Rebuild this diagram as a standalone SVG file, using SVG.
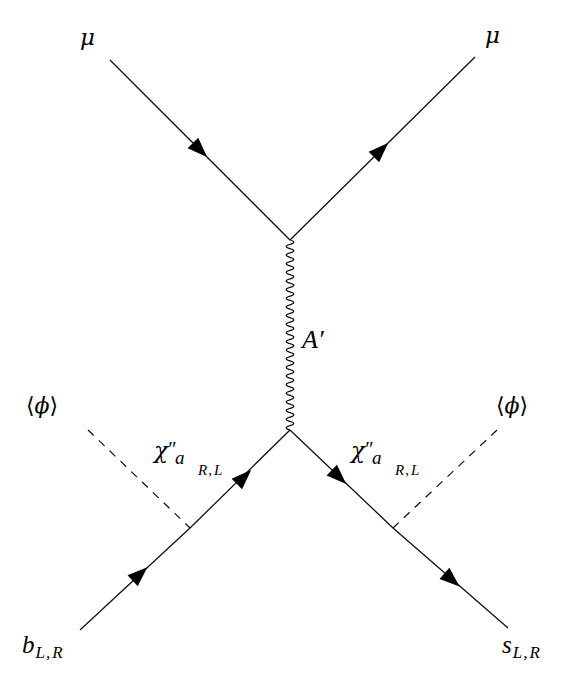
<svg xmlns="http://www.w3.org/2000/svg" width="572" height="680" viewBox="0 0 572 680">
<style>
.ln{fill:none;stroke:#111;stroke-width:1.3}
.ds{fill:none;stroke:#111;stroke-width:1.2;stroke-dasharray:8,7}
.ar{fill:#000}
text{fill:#000}
</style>
<defs>
<path id="arr" d="M10,0 L-10,-7.5 L-10,7.5 Z"/>
</defs>
<rect width="572" height="680" fill="#fff"/>
<g id="connectors">
<path class="ln" d="M110,60 L290,240"/>
<path class="ln" d="M475,57 L290,240"/>
<path class="ln" d="M290,430 L190,528 L80,630"/>
<path class="ln" d="M290,430 L393,528 L508,628"/>
<path class="ds" d="M88,430 L190,528"/>
<path class="ds" d="M497,430 L393,528"/>
<path class="ln" d="M290,240 q7.5,2.159 0,4.318 t0,4.318 t0,4.318 t0,4.318 t0,4.318 t0,4.318 t0,4.318 t0,4.318 t0,4.318 t0,4.318 t0,4.318 t0,4.318 t0,4.318 t0,4.318 t0,4.318 t0,4.318 t0,4.318 t0,4.318 t0,4.318 t0,4.318 t0,4.318 t0,4.318 t0,4.318 t0,4.318 t0,4.318 t0,4.318 t0,4.318 t0,4.318 t0,4.318 t0,4.318 t0,4.318 t0,4.318 t0,4.318 t0,4.318 t0,4.318 t0,4.318 t0,4.318 t0,4.318 t0,4.318 t0,4.318 t0,4.318 t0,4.318 t0,4.318 t0,4.318"/>
<use href="#arr" class="ar" transform="translate(200,150) rotate(45)"/>
<use href="#arr" class="ar" transform="translate(381,150) rotate(-44.7)"/>
<use href="#arr" class="ar" transform="translate(140,574) rotate(-42.8)"/>
<use href="#arr" class="ar" transform="translate(244,477) rotate(-44.4)"/>
<use href="#arr" class="ar" transform="translate(339,477) rotate(43.6)"/>
<use href="#arr" class="ar" transform="translate(452,580) rotate(41)"/>
</g>
<g id="mu-left"><text font-family="DejaVu Serif, serif" font-style="italic" x="80" y="45" font-size="23">μ</text></g>
<g id="mu-right"><text font-family="DejaVu Serif, serif" font-style="italic" x="485" y="43" font-size="23">μ</text></g>
<g id="Aprime"><text font-family="Liberation Serif, serif" font-style="italic" x="302" y="348" font-size="26">A′</text></g>
<g id="phi-left"><text font-family="DejaVu Serif, serif" x="26" y="413" font-size="22">⟨<tspan font-style="italic">ϕ</tspan>⟩</text></g>
<g id="phi-right"><text font-family="DejaVu Serif, serif" x="496" y="413" font-size="22">⟨<tspan font-style="italic">ϕ</tspan>⟩</text></g>
<g id="chi-left" font-family="Liberation Serif, serif" font-style="italic">
<text font-family="DejaVu Serif, serif" x="154" y="458" font-size="23">χ</text>
<text x="167" y="456" font-size="20">″</text>
<text x="175" y="464" font-size="19">a</text>
<text x="198" y="475" font-size="15">R<tspan dx="1">,</tspan><tspan dx="2">L</tspan></text>
</g>
<g id="chi-right" font-family="Liberation Serif, serif" font-style="italic">
<text font-family="DejaVu Serif, serif" x="351" y="458" font-size="23">χ</text>
<text x="364" y="456" font-size="20">″</text>
<text x="372" y="464" font-size="19">a</text>
<text x="395" y="475" font-size="15">R<tspan dx="1">,</tspan><tspan dx="2">L</tspan></text>
</g>
<g id="b-label" font-family="Liberation Serif, serif" font-style="italic"><text x="22" y="653" font-size="25">b<tspan font-size="17" dy="5" dx="1">L<tspan dx="1">,</tspan><tspan dx="2">R</tspan></tspan></text></g>
<g id="s-label" font-family="Liberation Serif, serif" font-style="italic"><text x="502" y="653" font-size="25">s<tspan font-size="17" dy="5" dx="1">L<tspan dx="1">,</tspan><tspan dx="2">R</tspan></tspan></text></g>
</svg>
